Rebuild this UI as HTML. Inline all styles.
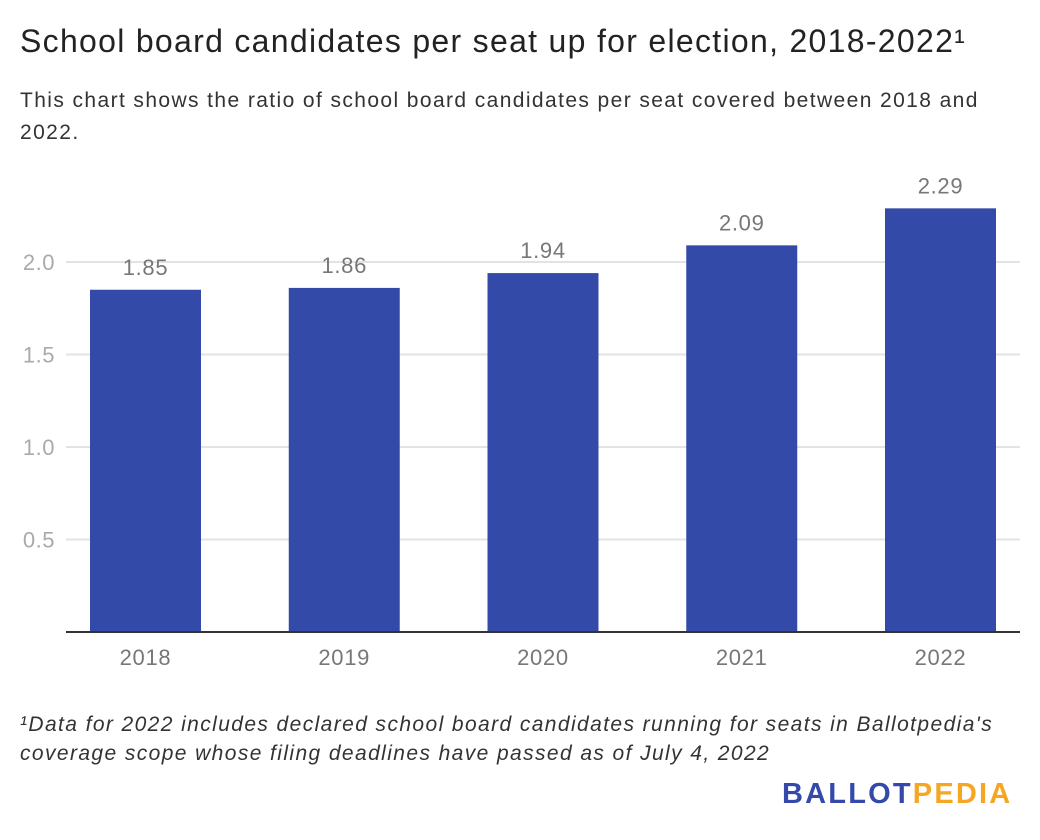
<!DOCTYPE html>
<html><head><meta charset="utf-8"><style>
body{margin:0;width:1040px;height:840px;background:#fff;font-family:"Liberation Sans",sans-serif;overflow:hidden;position:relative}
.t{position:absolute;margin:0}
</style></head><body>
<h1 class="t" style="left:20px;top:23px;font-size:32px;letter-spacing:1.3px;font-weight:normal;color:#222;white-space:nowrap">School board candidates per seat up for election, 2018-2022¹</h1>
<p class="t" style="left:20px;top:85px;width:1010px;font-size:21px;letter-spacing:1.4px;line-height:32px;color:#333">This chart shows the ratio of school board candidates per seat covered between 2018 and<br>2022.</p>
<svg id="chart" width="1040" height="700" style="position:absolute;left:0;top:0"></svg>
<p class="t" style="left:20px;top:710px;font-size:21px;letter-spacing:1.4px;line-height:29px;font-style:italic;color:#333;white-space:nowrap">¹Data for 2022 includes declared school board candidates running for seats in Ballotpedia's<br>coverage scope whose filing deadlines have passed as of July 4, 2022</p>
<div class="t" style="left:782px;top:778px;font-size:29px;font-weight:bold;letter-spacing:2.2px"><span style="color:#3449aa">BALLOT</span><span style="color:#f5a623">PEDIA</span></div>
<script>
const categories=["2018","2019","2020","2021","2022"];
const values=[1.85,1.86,1.94,2.09,2.29];
const yTicks=[0.5,1.0,1.5,2.0];
const svg=document.getElementById('chart');
const NS="http://www.w3.org/2000/svg";
const y=v=>632-v*185;
const x=i=>46+198.75*i+99.5;
function mk(t,a,txt){const e=document.createElementNS(NS,t);for(const k in a)e.setAttribute(k,a[k]);if(txt!=null)e.textContent=txt;svg.appendChild(e);return e;}
yTicks.forEach(v=>{
 const g=mk('line',{x1:66,x2:1020,y1:y(v),y2:y(v),stroke:'#e3e3e3','stroke-width':2});
 
 
 const t=mk('text',{x:55,y:y(v)+8,'text-anchor':'end','font-size':22,'letter-spacing':0.5,fill:'#aaa','font-family':'Liberation Sans'},v.toFixed(1));
 
 
});
values.forEach((v,i)=>{
 const r=mk('rect',{x:x(i)-55.5,y:y(v),width:111,height:632-y(v),fill:'#334aa8'});
 
 
 const l=mk('text',{x:x(i),y:y(v)-15,'text-anchor':'middle','font-size':22,'letter-spacing':0.7,fill:'#777','font-family':'Liberation Sans'},v.toFixed(2));
 
 
 const c=mk('text',{x:x(i),y:665,'text-anchor':'middle','font-size':22,'letter-spacing':0.7,fill:'#777','font-family':'Liberation Sans'},categories[i]);
 
 
});
const ax=mk('line',{x1:66,x2:1020,y1:632,y2:632,stroke:'#333','stroke-width':2});


</script>
</body></html>
